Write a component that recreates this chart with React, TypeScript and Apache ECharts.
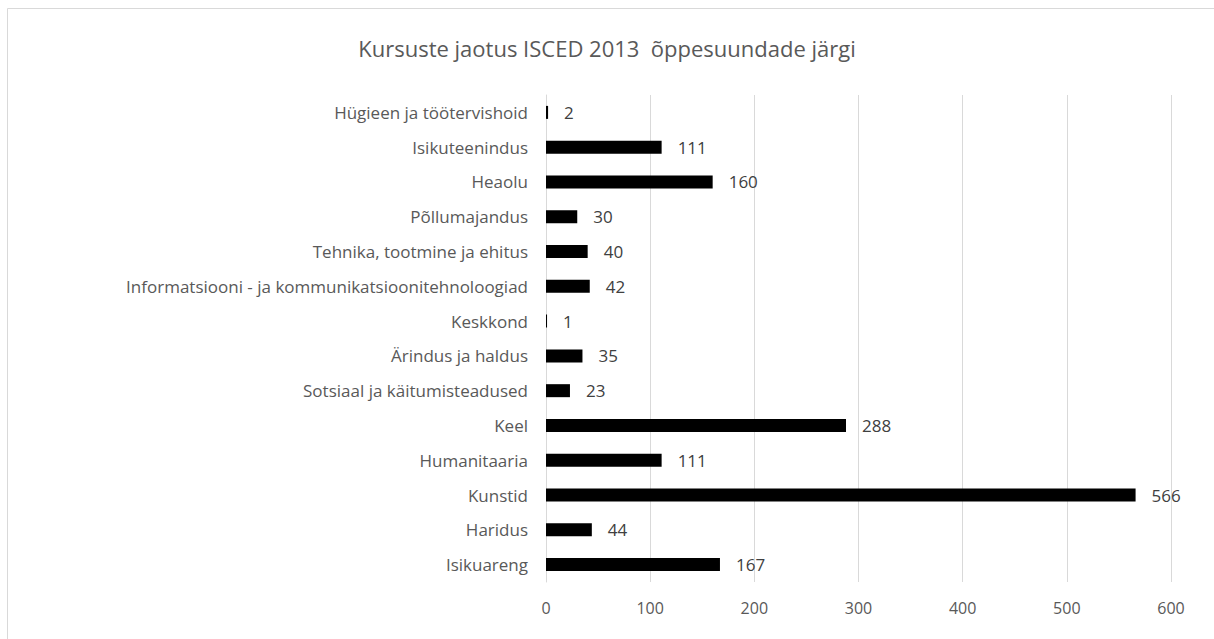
import React, { useEffect, useRef } from "react";
import * as echarts from "echarts";

const categories = [
  "Hügieen ja töötervishoid",
  "Isikuteenindus",
  "Heaolu",
  "Põllumajandus",
  "Tehnika, tootmine ja ehitus",
  "Informatsiooni - ja kommunikatsioonitehnoloogiad",
  "Keskkond",
  "Ärindus ja haldus",
  "Sotsiaal ja käitumisteadused",
  "Keel",
  "Humanitaaria",
  "Kunstid",
  "Haridus",
  "Isikuareng",
];
const values = [2, 111, 160, 30, 40, 42, 1, 35, 23, 288, 111, 566, 44, 167];
const titleText = "Kursuste jaotus ISCED 2013  õppesuundade järgi";

const FONT = "'Open Sans', 'Liberation Sans', sans-serif";

export default function App() {
  const ref = useRef<HTMLDivElement>(null);
  useEffect(() => {
    document.body.style.margin = "0";
    const chart = echarts.init(ref.current!, null, { renderer: "svg" });
    chart.setOption({
      animation: false,
      backgroundColor: "#ffffff",
      title: {
        text: titleText,
        left: "center",
        top: 32,
        textStyle: { fontFamily: FONT, fontSize: 22, fontWeight: "normal", color: "#595959" },
      },
      graphic: [
        {
          type: "rect",
          shape: { x: 7.5, y: 8.5, width: 1220, height: 650 },
          style: { fill: "none", stroke: "#d9d9d9", lineWidth: 1 },
          silent: true,
        },
      ],
      grid: { left: 546, right: 43, top: 95, bottom: 57, containLabel: false },
      xAxis: {
        type: "value",
        min: 0,
        max: 600,
        interval: 100,
        axisLine: { show: false },
        axisTick: { show: false },
        splitLine: { show: true, lineStyle: { color: "#d9d9d9", width: 1 } },
        axisLabel: { color: "#595959", fontSize: 16, fontFamily: FONT, margin: 18 },
      },
      yAxis: {
        type: "category",
        inverse: true,
        data: categories,
        axisLine: { show: true, lineStyle: { color: "#d9d9d9" } },
        axisTick: { show: false },
        axisLabel: { color: "#595959", fontSize: 17, fontFamily: FONT, margin: 18 },
      },
      series: [
        {
          type: "bar",
          data: values,
          barWidth: 13,
          itemStyle: { color: "#000000" },
          label: {
            show: true,
            position: "right",
            distance: 16,
            color: "#404040",
            fontSize: 17,
            fontFamily: FONT,
          },
        },
      ],
    });
    return () => chart.dispose();
  }, []);
  return (
    <div
      ref={ref}
      style={{ position: "fixed", left: 0, top: 0, width: 1214, height: 639 }}
    />
  );
}
